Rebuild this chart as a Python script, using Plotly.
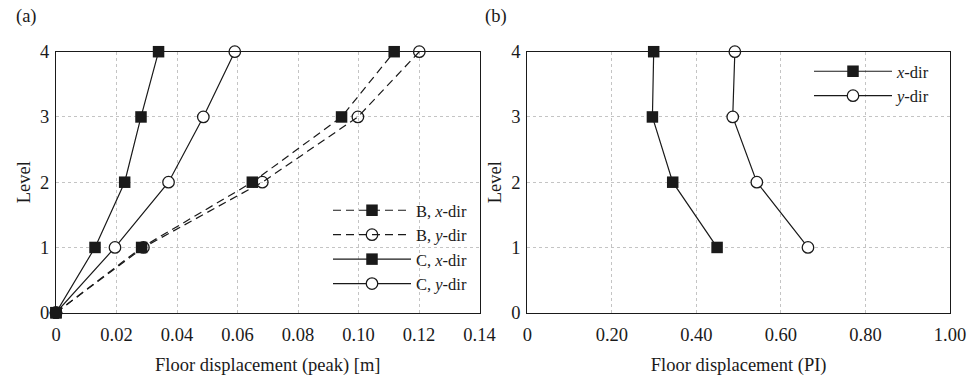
import plotly.graph_objects as go

# ---- data ----
levels = [0, 1, 2, 3, 4]
B_x = [0, 0.0283, 0.0649, 0.0944, 0.1118]
B_y = [0, 0.0289, 0.0682, 0.0998, 0.1201]
C_x = [0, 0.0129, 0.0227, 0.0281, 0.0339]
C_y = [0, 0.0195, 0.0372, 0.0487, 0.0591]

levels_pi = [1, 2, 3, 4]
PI_x = [0.449, 0.344, 0.296, 0.299]
PI_y = [0.664, 0.543, 0.486, 0.491]

xa_ticks = [0, 0.02, 0.04, 0.06, 0.08, 0.10, 0.12, 0.14]
xa_text = ["0", "0.02", "0.04", "0.06", "0.08", "0.10", "0.12", "0.14"]
xb_ticks = [0, 0.2, 0.4, 0.6, 0.8, 1.0]
xb_text = ["0", "0.20", "0.40", "0.60", "0.80", "1.00"]
y_ticks = [0, 1, 2, 3, 4]

FONT = "Liberation Serif"
W, H = 978, 382
INK = "#1a1a1a"

fig = go.Figure()

sq = dict(symbol="square", size=11.5, color=INK, line=dict(width=0))
circ_open = dict(symbol="circle-open", size=11.5, color=INK, line=dict(width=1.3))
circ_white = dict(symbol="circle", size=11.5, color="white", line=dict(width=1.3, color=INK))
dash = "8px,5px"

# circles drawn first so the filled squares sit on top at the origin
fig.add_trace(go.Scatter(x=B_y, y=levels, mode="lines+markers", name="B, <i>y</i>-dir",
                         line=dict(color=INK, width=1.2, dash=dash), marker=circ_open,
                         cliponaxis=False, legend="legend", legendgroup="a2", legendrank=2,
                         xaxis="x", yaxis="y"))
fig.add_trace(go.Scatter(x=C_y, y=levels, mode="lines+markers", name="C, <i>y</i>-dir",
                         line=dict(color=INK, width=1.2), marker=circ_white,
                         cliponaxis=False, legend="legend", legendgroup="a4", legendrank=4,
                         xaxis="x", yaxis="y"))
fig.add_trace(go.Scatter(x=B_x, y=levels, mode="lines+markers", name="B, <i>x</i>-dir",
                         line=dict(color=INK, width=1.2, dash=dash), marker=sq,
                         cliponaxis=False, legend="legend", legendgroup="a1", legendrank=1,
                         xaxis="x", yaxis="y"))
fig.add_trace(go.Scatter(x=C_x, y=levels, mode="lines+markers", name="C, <i>x</i>-dir",
                         line=dict(color=INK, width=1.2), marker=sq,
                         cliponaxis=False, legend="legend", legendgroup="a3", legendrank=3,
                         xaxis="x", yaxis="y"))

fig.add_trace(go.Scatter(x=PI_x, y=levels_pi, mode="lines+markers", name="<i>x</i>-dir",
                         line=dict(color=INK, width=1.2), marker=sq,
                         cliponaxis=False, legend="legend2", legendgroup="b1",
                         xaxis="x2", yaxis="y2"))
fig.add_trace(go.Scatter(x=PI_y, y=levels_pi, mode="lines+markers", name="<i>y</i>-dir",
                         line=dict(color=INK, width=1.2), marker=circ_white,
                         cliponaxis=False, legend="legend2", legendgroup="b2",
                         xaxis="x2", yaxis="y2"))

ydom = [(H - 312.7) / H, (H - 51.7) / H]

common_x = dict(showline=True, mirror=True, linecolor=INK, linewidth=1.2, layer="above traces",
                showgrid=True, gridcolor="#c4c4c4", griddash="dot", gridwidth=1,
                zeroline=False, ticks="", tickfont=dict(family=FONT, size=18.5, color=INK),
                ticklabelstandoff=5, automargin=False)
common_y = dict(showline=True, mirror=True, linecolor=INK, linewidth=1.2, layer="above traces",
                showgrid=True, gridcolor="#c4c4c4", griddash="dot", gridwidth=1,
                zeroline=False, ticks="", tickfont=dict(family=FONT, size=18.5, color=INK),
                range=[0, 4], tickvals=y_ticks, ticktext=[str(v) for v in y_ticks],
                ticklabelstandoff=2, automargin=False)

fig.update_layout(
    width=W, height=H,
    margin=dict(l=0, r=0, t=0, b=0),
    paper_bgcolor="white", plot_bgcolor="white",
    font=dict(family=FONT, size=18.5, color=INK),
    showlegend=True,
    xaxis=dict(domain=[56 / W, 479.5 / W], range=[0, 0.14], tickvals=xa_ticks, ticktext=xa_text,
               anchor="y",
               title=dict(text="Floor displacement (peak) [m]", font=dict(family=FONT, size=18.5),
                          standoff=14),
               **common_x),
    yaxis=dict(domain=ydom, anchor="x",
               title=dict(text="Level", font=dict(family=FONT, size=18.5), standoff=4),
               **common_y),
    xaxis2=dict(domain=[527.3 / W, 950 / W], range=[0, 1.0], tickvals=xb_ticks, ticktext=xb_text,
                anchor="y2",
                title=dict(text="Floor displacement (PI)", font=dict(family=FONT, size=18.5),
                           standoff=14),
                **common_x),
    yaxis2=dict(domain=ydom, anchor="x2",
                title=dict(text="Level", font=dict(family=FONT, size=18.5), standoff=4),
                **common_y),
    legend=dict(x=328 / W, y=1 - 193 / H, xanchor="left", yanchor="top",
                bgcolor="rgba(0,0,0,0)", borderwidth=0, itemwidth=78,
                font=dict(family=FONT, size=16.5), tracegroupgap=0, traceorder="grouped"),
    legend2=dict(x=809 / W, y=1 - 54 / H, xanchor="left", yanchor="top",
                 bgcolor="rgba(0,0,0,0)", borderwidth=0, itemwidth=78,
                 font=dict(family=FONT, size=16.5), tracegroupgap=0),
    annotations=[
        dict(text="(a)", x=14 / W, y=1 - 16 / H, xref="paper", yref="paper",
             xanchor="left", yanchor="middle", showarrow=False,
             font=dict(family=FONT, size=18.5)),
        dict(text="(b)", x=483 / W, y=1 - 16 / H, xref="paper", yref="paper",
             xanchor="left", yanchor="middle", showarrow=False,
             font=dict(family=FONT, size=18.5)),
    ],
)

fig.write_html("out.html")
